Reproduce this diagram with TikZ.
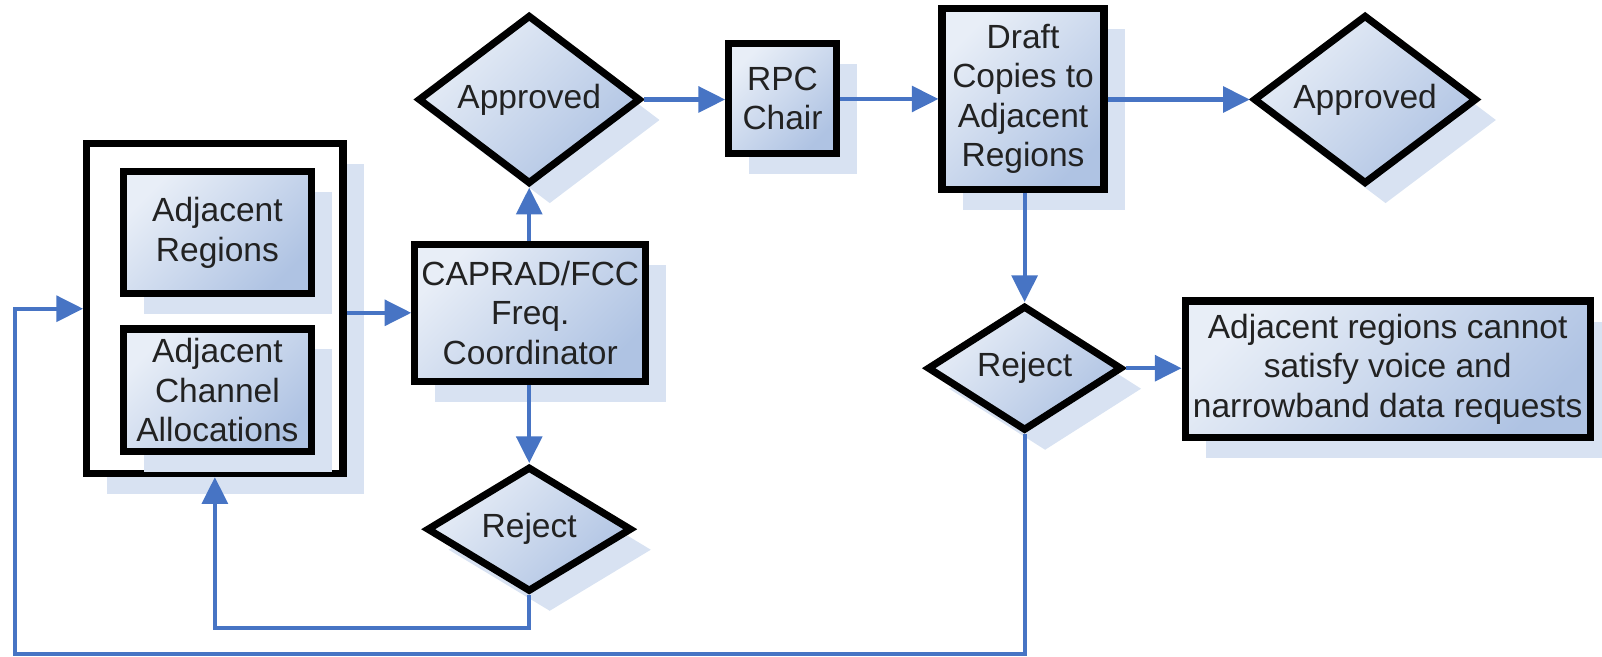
\documentclass[tikz,border=0pt]{standalone}
\usepackage{fontspec}
\setmainfont{Liberation Sans}
\usetikzlibrary{shapes.geometric,shadows,arrows.meta}
\definecolor{flowlight}{HTML}{E8EEF7}
\definecolor{flowdark}{HTML}{AFC3E3}
\definecolor{shadowblue}{HTML}{D8E2F2}
\definecolor{arrowblue}{HTML}{4774C4}
\definecolor{txtgray}{HTML}{222222}
\tikzset{
  shaded/.style={top color=flowlight, bottom color=flowdark, shading angle=45},
  shadowed/.style={drop shadow={shadow xshift=0.4cm, shadow yshift=-0.4cm, fill=shadowblue, opacity=1}},
  txt/.style={text=txtgray, font=\fontsize{18.6}{21.8}\selectfont, align=center, inner sep=0pt},
  flowbox/.style={rectangle, draw=black, line width=4pt, shaded, shadowed, txt},
  flowdia/.style={diamond, aspect=1.3, draw=black, line width=4pt, shaded, shadowed, txt},
  container/.style={rectangle, draw=black, line width=4pt, fill=white, shadowed},
  arr/.style={draw=arrowblue, line width=2.3pt, -{Triangle[length=0.52cm,width=0.5cm]}}
}
\begin{document}
\begin{tikzpicture}[x=0.02cm, y=-0.02cm]
\useasboundingbox (0,0) rectangle (1562,640);
% container
\node[container, minimum width=5.0cm, minimum height=6.43cm] (outer) at (209.5,301) {};
\node[flowbox, minimum width=3.66cm, minimum height=2.38cm] (ar) at (212,227) {Adjacent\\Regions};
\node[flowbox, minimum width=3.66cm, minimum height=2.39cm] (aca) at (212,380.5) {Adjacent\\Channel\\Allocations};
% main flow
\node[flowbox, minimum width=4.5cm, minimum height=2.67cm] (cap) at (517,305) {CAPRAD/FCC\\Freq.\\Coordinator};
\node[flowdia, minimum width=4.34cm, minimum height=3.3cm] (app1) at (516,97) {Approved};
\node[flowdia, minimum width=4.0cm, minimum height=2.44cm] (rej1) at (516,516) {Reject};
\node[flowbox, minimum width=2.1cm, minimum height=2.14cm] (rpc) at (763,96) {RPC\\Chair};
\node[flowbox, minimum width=3.16cm, minimum height=3.52cm] (draft) at (997.5,96.5) {Draft\\Copies to\\Adjacent\\Regions};
\node[flowdia, minimum width=4.36cm, minimum height=3.3cm] (app2) at (1331,97) {Approved};
\node[flowdia, minimum width=3.8cm, minimum height=2.44cm] (rej2) at (999,359) {Reject};
\node[flowbox, minimum width=7.9cm, minimum height=2.66cm] (res) at (1353,360) {Adjacent regions cannot\\satisfy voice and\\narrowband data requests};
% connectors
\draw[arr] (outer.east |- cap.west) -- (cap.west);
\draw[arr] (cap.north -| app1.south) -- (app1.south);
\draw[arr] (cap.south -| rej1.north) -- (rej1.north);
\draw[arr] (app1.east) -- (rpc.west |- app1.east);
\draw[arr] (rpc.east |- draft.west) -- (draft.west);
\draw[arr] (draft.east |- app2.west) -- (app2.west);
\draw[arr] (draft.south -| rej2.north) -- (rej2.north);
\draw[arr] (rej2.east) -- (res.west |- rej2.east);
\coordinate (loopA) at (209.5,612);
\coordinate (loopB) at (15,638);
\draw[arr] (rej1.south) |- (loopA) -- (outer.south);
\draw[arr] (rej2.south) |- (loopB) |- (outer.west);
\end{tikzpicture}
\end{document}
